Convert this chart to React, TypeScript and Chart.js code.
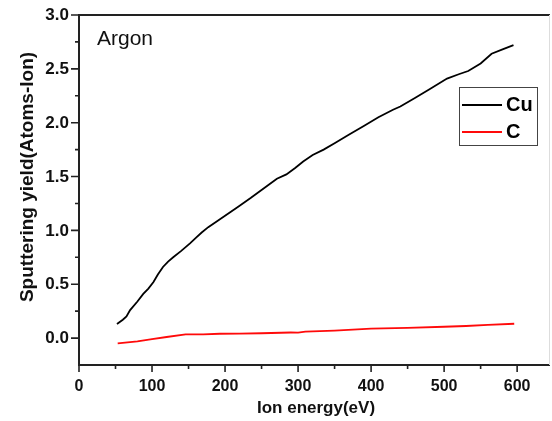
import React, { useEffect, useRef } from "react";
import { Chart, registerables } from "chart.js";

Chart.register(...registerables);

const cuEnergy = [52, 60, 65, 70, 80, 88, 95, 102, 108, 115, 122, 129, 140, 152, 160, 168, 177, 190, 205, 218, 235, 257, 271, 284, 296, 307, 320, 335, 350, 370, 390, 410, 430, 440, 460, 480, 504, 520, 533, 550, 565, 580, 595];
const cuYield = [0.13, 0.17, 0.2, 0.26, 0.34, 0.41, 0.46, 0.52, 0.59, 0.66, 0.71, 0.75, 0.81, 0.88, 0.93, 0.98, 1.03, 1.09, 1.16, 1.22, 1.3, 1.41, 1.48, 1.52, 1.58, 1.64, 1.7, 1.75, 1.81, 1.89, 1.97, 2.05, 2.12, 2.15, 2.23, 2.31, 2.41, 2.45, 2.48, 2.55, 2.64, 2.68, 2.72];

const cEnergy = [53, 80, 100, 120, 146, 170, 193, 220, 250, 290, 300, 310, 350, 400, 450, 500, 530, 560, 596];
const cYield = [-0.05, -0.03, -0.01, 0.01, 0.034, 0.035, 0.04, 0.042, 0.045, 0.052, 0.05, 0.06, 0.07, 0.087, 0.095, 0.105, 0.112, 0.122, 0.133];

const xTicks = [0, 100, 200, 300, 400, 500, 600];
const xMinorTicks = [50, 150, 250, 350, 450, 550];
const yTicks = [0, 0.5, 1.0, 1.5, 2.0, 2.5, 3.0];
const yMinorTicks = [0.25, 0.75, 1.25, 1.75, 2.25, 2.75];

const seriesLabels = ["Cu", "C"];
const seriesColors = ["#000000", "#ff0a0a"];
const panelLabel = "Argon";
const xTitle = "Ion energy(eV)";
const yTitle = "Sputtering yield(Atoms-Ion)";

const FONT = "'Liberation Sans', Arial, sans-serif";

const framePlugin = {
  id: "frame",
  afterDraw(chart: any) {
    const { ctx, chartArea, scales } = chart;
    const { left, right, top, bottom } = chartArea;
    const xs = scales.x;
    const ys = scales.y;
    ctx.save();
    ctx.strokeStyle = "#222";
    ctx.lineWidth = 2;
    ctx.beginPath();
    ctx.moveTo(left, top);
    ctx.lineTo(right, top);
    ctx.moveTo(left, top - 1);
    ctx.lineTo(left, bottom + 1);
    ctx.moveTo(left - 1, bottom);
    ctx.lineTo(right, bottom);
    ctx.stroke();
    ctx.strokeStyle = "#ddd";
    ctx.lineWidth = 1;
    ctx.beginPath();
    ctx.moveTo(right - 0.5, top);
    ctx.lineTo(right - 0.5, bottom);
    ctx.stroke();
    ctx.strokeStyle = "#222";
    ctx.lineWidth = 1.6;
    ctx.beginPath();
    xTicks.forEach((v) => {
      const px = xs.getPixelForValue(v);
      ctx.moveTo(px, bottom);
      ctx.lineTo(px, bottom + 7);
    });
    xMinorTicks.forEach((v) => {
      const px = xs.getPixelForValue(v);
      ctx.moveTo(px, bottom);
      ctx.lineTo(px, bottom + 4);
    });
    yTicks.forEach((v) => {
      const py = ys.getPixelForValue(v);
      ctx.moveTo(left, py);
      ctx.lineTo(left - 8, py);
    });
    yMinorTicks.forEach((v) => {
      const py = ys.getPixelForValue(v);
      ctx.moveTo(left, py);
      ctx.lineTo(left - 4, py);
    });
    ctx.stroke();

    // tick labels
    ctx.fillStyle = "#111";
    ctx.font = `bold 16px ${FONT}`;
    ctx.textAlign = "center";
    ctx.textBaseline = "alphabetic";
    xTicks.forEach((v) => {
      ctx.fillText(String(v), xs.getPixelForValue(v), bottom + 26);
    });
    ctx.font = `bold 17px ${FONT}`;
    ctx.textAlign = "right";
    ctx.textBaseline = "middle";
    yTicks.forEach((v) => {
      ctx.fillText(v.toFixed(1), left - 10, ys.getPixelForValue(v) + 0.5);
    });

    // axis titles
    ctx.font = `bold 17px ${FONT}`;
    ctx.textAlign = "center";
    ctx.textBaseline = "alphabetic";
    ctx.fillText(xTitle, 316, 413);
    ctx.save();
    ctx.translate(33, 177);
    ctx.rotate(-Math.PI / 2);
    ctx.font = `bold 19px ${FONT}`;
    ctx.fillText(yTitle, 0, 0);
    ctx.restore();

    // panel label
    ctx.fillStyle = "#111";
    ctx.font = `21px ${FONT}`;
    ctx.textAlign = "left";
    ctx.textBaseline = "middle";
    ctx.fillText(panelLabel, 97, 39);

    // legend
    const bx = 459, by = 87, bw = 78, bh = 58;
    ctx.strokeStyle = "#444";
    ctx.lineWidth = 1;
    ctx.strokeRect(bx + 0.5, by + 0.5, bw, bh);
    ctx.font = `bold 20px ${FONT}`;
    chart.data.datasets.forEach((ds: any, i: number) => {
      const ly = [105, 132][i];
      ctx.strokeStyle = ds.borderColor;
      ctx.lineWidth = 1.8;
      ctx.beginPath();
      ctx.moveTo(462, ly);
      ctx.lineTo(502, ly);
      ctx.stroke();
      ctx.fillStyle = "#000";
      ctx.fillText(ds.label, 506, ly);
    });
    ctx.restore();
  },
};

export default function App() {
  const canvasRef = useRef<HTMLCanvasElement | null>(null);

  useEffect(() => {
    document.body.style.margin = "0";
    const canvas = canvasRef.current;
    if (!canvas) return;
    const chart = new Chart(canvas, {
      type: "line",
      data: {
        datasets: [
          {
            label: seriesLabels[0],
            data: cuEnergy.map((x, i) => ({ x, y: cuYield[i] })),
            borderColor: seriesColors[0],
            borderWidth: 1.8,
            pointRadius: 0,
            tension: 0,
          },
          {
            label: seriesLabels[1],
            data: cEnergy.map((x, i) => ({ x, y: cYield[i] })),
            borderColor: seriesColors[1],
            borderWidth: 1.8,
            pointRadius: 0,
            tension: 0,
          },
        ],
      },
      options: {
        responsive: false,
        animation: false,
        layout: { padding: { top: 15, right: 2, left: 0, bottom: 0 } },
        plugins: { legend: { display: false }, tooltip: { enabled: false } },
        scales: {
          x: {
            type: "linear",
            min: 0,
            max: 645,
            grid: { display: false, drawTicks: false },
            border: { display: false },
            afterBuildTicks: (s: any) => {
              s.ticks = xTicks.map((v) => ({ value: v }));
            },
            afterFit: (s: any) => {
              s.height = 56;
            },
            ticks: { display: false },
          },
          y: {
            type: "linear",
            min: -0.25,
            max: 3.0,
            grid: { display: false, drawTicks: false },
            border: { display: false },
            afterBuildTicks: (s: any) => {
              s.ticks = yTicks.map((v) => ({ value: v }));
            },
            afterFit: (s: any) => {
              s.width = 79;
            },
            ticks: { display: false },
          },
        },
      },
      plugins: [framePlugin],
    } as any);
    return () => chart.destroy();
  }, []);

  return (
    <div style={{ position: "fixed", left: 0, top: 0, width: 552, height: 421, background: "#fff" }}>
      <canvas ref={canvasRef} width={552} height={421} style={{ display: "block" }} />
    </div>
  );
}
